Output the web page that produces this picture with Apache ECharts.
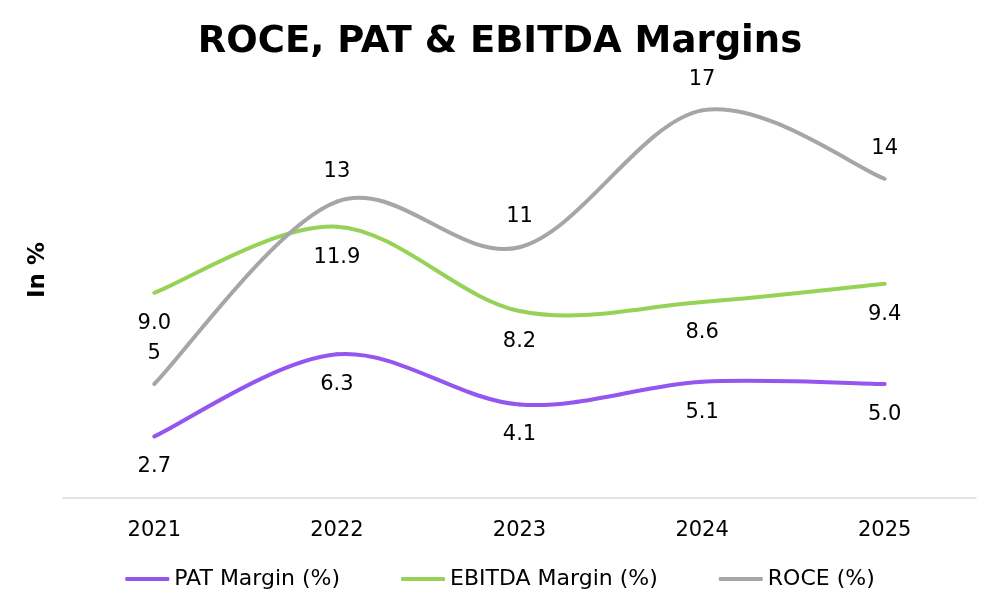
<!DOCTYPE html>
<html><head><meta charset="utf-8">
<script src="https://cdn.jsdelivr.net/npm/echarts@6/dist/echarts.min.js"></script>
<style>html,body{margin:0;padding:0;background:#fff}#c{width:1000px;height:613px}</style>
</head><body><div id="c"></div>
<script>
const years = ['2021','2022','2023','2024','2025'];
const patMargin = [2.7, 6.3, 4.1, 5.1, 5.0];
const ebitdaMargin = [9.0, 11.9, 8.2, 8.6, 9.4];
const roce = [5, 13, 11, 17, 14];

const FONT = '"DejaVu Sans", sans-serif';
const COLORS = { pat: '#9456EE', ebitda: '#95D256', roce: '#A6A6A6' };
const chart = echarts.init(document.getElementById('c'));

// label + legend carrier (line itself invisible; curve drawn by custom series)
function labels(name, data, color, pos, fmt) {
  return {
    name, type: 'line', data, symbol: 'circle', symbolSize: 0, showSymbol: true,
    lineStyle: { opacity: 0 }, itemStyle: { color }, z: 3,
    label: { show: true, position: pos, distance: 20, color: '#000', fontSize: 21, fontFamily: FONT,
      formatter: p => fmt(p.value) }
  };
}
// Catmull-Rom (Excel-style) smoothed curve through the data, via the axes' own coordinate mapping
function curve(name, data, color) {
  return {
    name, type: 'custom', z: 2,
    data: data.map((v, i) => [i, v]),
    encode: { x: 0, y: 1 },
    renderItem: (params, api) => {
      const n = params.dataInsideLength, i = params.dataIndexInside;
      if (i >= n - 1) return null;
      const pt = k => { k = Math.max(0, Math.min(n - 1, k)); return api.coord([api.value(0, k), api.value(1, k)]); };
      const p0 = pt(i - 1), p1 = pt(i), p2 = pt(i + 1), p3 = pt(i + 2);
      return {
        type: 'bezierCurve',
        shape: {
          x1: p1[0], y1: p1[1], x2: p2[0], y2: p2[1],
          cpx1: p1[0] + (p2[0] - p0[0]) / 6, cpy1: p1[1] + (p2[1] - p0[1]) / 6,
          cpx2: p2[0] - (p3[0] - p1[0]) / 6, cpy2: p2[1] - (p3[1] - p1[1]) / 6
        },
        style: { stroke: color, lineWidth: 4, fill: null, lineCap: 'round' }
      };
    }
  };
}
chart.setOption({
  animation: false,
  title: { text: 'ROCE, PAT & EBITDA Margins', left: 'center', top: 19,
    textStyle: { fontSize: 37, fontWeight: 'bold', color: '#000', fontFamily: FONT } },
  grid: { left: 63, right: 24, top: 42, bottom: 115 },
  legend: { bottom: 18, left: 'center', itemWidth: 44, itemHeight: 4, itemGap: 61,
    icon: 'roundRect',
    textStyle: { fontSize: 22, color: '#000', fontFamily: FONT },
    data: [
      { name: 'PAT Margin (%)', itemStyle: { color: COLORS.pat } },
      { name: 'EBITDA Margin (%)', itemStyle: { color: COLORS.ebitda } },
      { name: 'ROCE (%)', itemStyle: { color: COLORS.roce } }
    ] },
  xAxis: { type: 'category', data: years, boundaryGap: true,
    axisLine: { lineStyle: { color: '#d9d9d9', width: 1.5 } }, axisTick: { show: false },
    axisLabel: { fontSize: 21, color: '#000', margin: 22, fontFamily: FONT } },
  yAxis: { type: 'value', min: 0, max: 20, show: true,
    name: 'In %', nameLocation: 'middle', nameGap: 13, nameRotate: 90,
    nameTextStyle: { fontSize: 23, fontWeight: 'bold', color: '#000', fontFamily: FONT },
    axisLine: { show: false }, axisTick: { show: false }, axisLabel: { show: false }, splitLine: { show: false } },
  series: [
    labels('PAT Margin (%)', patMargin, COLORS.pat, 'bottom', v => v.toFixed(1)),
    labels('EBITDA Margin (%)', ebitdaMargin, COLORS.ebitda, 'bottom', v => v.toFixed(1)),
    labels('ROCE (%)', roce, COLORS.roce, 'top', v => String(v)),
    curve('PAT Margin (%)', patMargin, COLORS.pat),
    curve('EBITDA Margin (%)', ebitdaMargin, COLORS.ebitda),
    curve('ROCE (%)', roce, COLORS.roce)
  ]
});
</script></body></html>
